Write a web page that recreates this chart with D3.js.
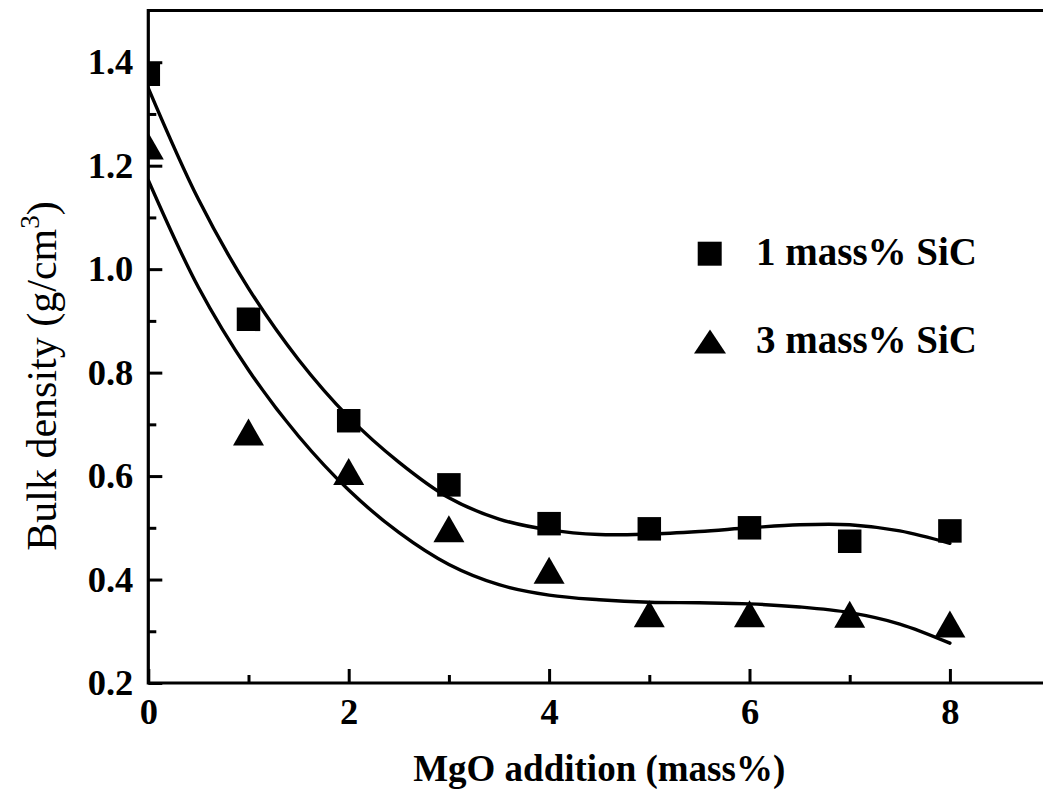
<!DOCTYPE html>
<html>
<head>
<meta charset="utf-8">
<script src="https://cdn.jsdelivr.net/npm/d3@7"></script>
<style>
  html, body { margin: 0; padding: 0; background: #fff; }
  svg { display: block; }
  text { font-family: "Liberation Serif", "Times New Roman", serif; fill: #000; }
</style>
</head>
<body>
<svg id="chart" width="1043" height="789"></svg>
<script>
// MgO addition (mass%)
const mgo = [0, 1, 2, 3, 4, 5, 6, 7, 8];
// Bulk density (g/cm3) for each SiC content
const sic1 = [1.377, 0.903, 0.707, 0.583, 0.508, 0.498, 0.500, 0.474, 0.494];
const sic3 = [1.238, 0.685, 0.609, 0.498, 0.418, 0.334, 0.334, 0.333, 0.314];

// Fitted trend curves, sampled as [MgO, density] pairs
const fit1 = [[0, 1.350], [0.5, 1.135], [1, 0.963], [1.5, 0.825], [2, 0.714], [2.5, 0.627],
  [3, 0.558], [3.5, 0.517], [4, 0.496], [4.5, 0.487], [5, 0.488], [5.5, 0.493],
  [6, 0.500], [6.5, 0.506], [7, 0.506], [7.5, 0.494], [8, 0.470]];
const fit3 = [[0, 1.172], [0.5, 0.965], [1, 0.805], [1.5, 0.677], [2, 0.573], [2.5, 0.491],
  [3, 0.429], [3.5, 0.390], [4, 0.370], [4.5, 0.361], [5, 0.356], [5.5, 0.355],
  [6, 0.353], [6.5, 0.347], [7, 0.336], [7.5, 0.314], [8, 0.277]];

const xMajor = [0, 2, 4, 6, 8];
const xMinor = [1, 3, 5, 7];
const yMajor = [0.2, 0.4, 0.6, 0.8, 1.0, 1.2, 1.4];
const yMinor = [0.3, 0.5, 0.7, 0.9, 1.1, 1.3];
const legendLabels = ["1 mass% SiC", "3 mass% SiC"];

const W = 1043, H = 789;
const plotLeft = 148.3, plotTop = 10.5, plotBottom = 683;

const svg = d3.select("#chart");
const x = d3.scaleLinear().domain([0, 9]).range([plotLeft, plotLeft + 9 * 100.2]);
const y = d3.scaleLinear().domain([0.2, 1.5]).range([plotBottom, plotTop]);

svg.append("defs").append("clipPath").attr("id", "plotClip")
  .append("rect").attr("x", plotLeft).attr("y", plotTop)
  .attr("width", W - plotLeft).attr("height", plotBottom - plotTop);

const plot = svg.append("g").attr("clip-path", "url(#plotClip)");

// Fit curves
const line = d3.line().x(d => x(d[0])).y(d => y(d[1])).curve(d3.curveCatmullRom.alpha(0.5));
[fit1, fit3].forEach(pts => {
  plot.append("path").datum(pts).attr("d", line)
    .attr("fill", "none").attr("stroke", "#000").attr("stroke-width", 3.4)
    .attr("stroke-linejoin", "round").attr("stroke-linecap", "round");
});

// Marker shapes
const SQ = 23.5, TW = 31, TH = 27;
function squarePath(cx, cy, s) {
  const p = d3.path();
  p.rect(cx - s / 2, cy - s / 2, s, s);
  return p.toString();
}
function trianglePath(cx, cy, w, h) {
  const p = d3.path();
  p.moveTo(cx, cy - h / 2);
  p.lineTo(cx + w / 2, cy + h / 2);
  p.lineTo(cx - w / 2, cy + h / 2);
  p.closePath();
  return p.toString();
}

plot.selectAll("path.sq").data(mgo.map((m, i) => [m, sic1[i]])).join("path")
  .attr("class", "sq").attr("fill", "#000")
  .attr("d", d => squarePath(x(d[0]), y(d[1]), SQ));
plot.selectAll("path.tri").data(mgo.map((m, i) => [m, sic3[i]])).join("path")
  .attr("class", "tri").attr("fill", "#000")
  .attr("d", d => trianglePath(x(d[0]), y(d[1]), TW, TH));

// Axes with inward ticks
const axisW = 3.2;
const xAxis = svg.append("g").attr("transform", `translate(0,${plotBottom})`)
  .call(d3.axisBottom(x).tickValues(xMajor).tickSize(-14).tickSizeOuter(0).tickPadding(15)
    .tickFormat(d3.format("d")));
const xAxisMinor = svg.append("g").attr("transform", `translate(0,${plotBottom})`)
  .call(d3.axisBottom(x).tickValues(xMinor).tickSize(-8).tickSizeOuter(0).tickFormat(""));
const yAxis = svg.append("g").attr("transform", `translate(${plotLeft},0)`)
  .call(d3.axisLeft(y).tickValues(yMajor).tickSize(-14).tickSizeOuter(0).tickPadding(15)
    .tickFormat(d3.format(".1f")));
const yAxisMinor = svg.append("g").attr("transform", `translate(${plotLeft},0)`)
  .call(d3.axisLeft(y).tickValues(yMinor).tickSize(-8).tickSizeOuter(0).tickFormat(""));

[xAxis, xAxisMinor, yAxis, yAxisMinor].forEach(g => {
  g.selectAll("line").attr("stroke", "#000").attr("stroke-width", 3);
  g.select(".domain").remove();
  g.selectAll("text").attr("font-size", 36.5).attr("font-weight", "bold")
    .style("font-family", '"Liberation Serif", serif');
});

// Frame: left, bottom and top borders
svg.append("path")
  .attr("d", `M${W + 5},${y(1.5)}H${plotLeft}V${plotBottom}H${W + 5}`)
  .attr("fill", "none").attr("stroke", "#000").attr("stroke-width", axisW)
  .attr("stroke-linejoin", "miter");

// Axis titles
svg.append("text")
  .attr("x", x(4.5)).attr("y", 781)
  .attr("text-anchor", "middle").attr("font-size", 37).attr("font-weight", "bold")
  .text("MgO addition (mass%)");

const yt = svg.append("text")
  .attr("transform", "translate(56,376) rotate(-90)")
  .attr("text-anchor", "middle").attr("font-size", 42);
yt.append("tspan").text("Bulk density (g/cm");
yt.append("tspan").attr("font-size", 27).attr("dy", -17).text("3");
yt.append("tspan").attr("dy", 17).text(")");

// Legend
const leg = svg.append("g");
leg.append("path").attr("fill", "#000").attr("d", squarePath(709.7, 253.7, 24));
leg.append("path").attr("fill", "#000").attr("d", trianglePath(710, 341.5, 32, 24));
leg.selectAll("text").data(legendLabels).join("text")
  .attr("x", 756).attr("y", (d, i) => [265, 352.7][i])
  .attr("font-size", 39).attr("font-weight", "bold")
  .text(d => d);
</script>
</body>
</html>
